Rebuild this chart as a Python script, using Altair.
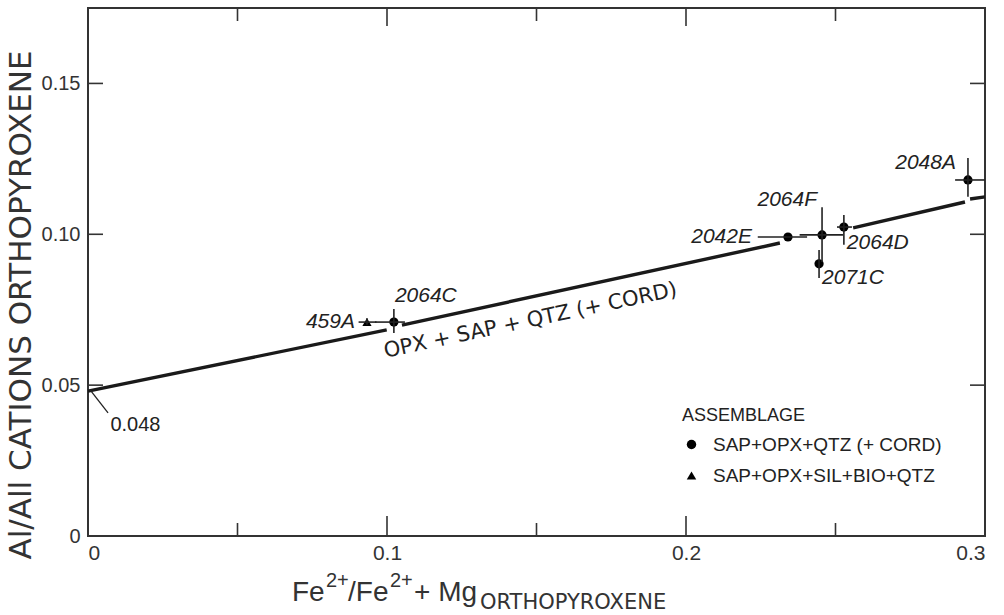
import altair as alt
import pandas as pd

# --- analysed orthopyroxenes -------------------------------------------------
samples = ["459A", "2064C", "2042E", "2064F", "2064D", "2071C", "2048A"]
fe_ratio = [0.0933, 0.1023, 0.2341, 0.2455, 0.2528, 0.2445, 0.2943]
al_cations = [0.0709, 0.0709, 0.0991, 0.0998, 0.1024, 0.0902, 0.1180]
ASSEMBLAGES = ["SAP+OPX+QTZ  (+ CORD)", "SAP+OPX+SIL+BIO+QTZ"]
assemblage = [ASSEMBLAGES[1]] + [ASSEMBLAGES[0]] * 6

# analytical ranges (error bars)
fe_lo = [0.0905, 0.0960, 0.2240, 0.2380, 0.2505, 0.2445, 0.2900]
fe_hi = [0.0965, 0.1060, 0.2405, 0.2525, 0.2555, 0.2445, 0.3000]
al_lo = [0.0700, 0.0673, 0.0991, 0.0908, 0.0965, 0.0855, 0.1124]
al_hi = [0.0722, 0.0752, 0.0991, 0.1090, 0.1064, 0.0948, 0.1253]

# OPX + SAP + QTZ (+ CORD) trend, interrupted around the data points
seg_fe_start = [0.0000, 0.1050, 0.2559, 0.2950]
seg_al_start = [0.0480, 0.0699, 0.1021, 0.1117]
seg_fe_end = [0.0999, 0.2314, 0.2933, 0.3000]
seg_al_end = [0.0683, 0.0971, 0.1107, 0.1124]

# frame ticks
x_major_ticks = [0.1, 0.2]
x_minor_ticks = [0.05, 0.15, 0.25]
y_ticks = [0.05, 0.10, 0.15]
x_tick_labels = [0, 0.1, 0.2, 0.3]
y_tick_labels = [0, 0.05, 0.10, 0.15]

W, H = 897, 528
SANS = "Liberation Sans, Arial, sans-serif"
WIDE = "DejaVu Sans, Verdana, sans-serif"

pts = pd.DataFrame({
    "sample": samples, "fe": fe_ratio, "al": al_cations, "assemblage": assemblage,
    "fe_lo": fe_lo, "fe_hi": fe_hi, "al_lo": al_lo, "al_hi": al_hi,
})
segs = pd.DataFrame({"x0": seg_fe_start, "y0": seg_al_start,
                     "x1": seg_fe_end, "y1": seg_al_end})

xs = alt.Scale(domain=[0, 0.3], nice=False, zero=False)
ys = alt.Scale(domain=[0, 0.175], nice=False, zero=False)
x_axis = alt.Axis(
    values=x_tick_labels, tickSize=0, domain=False, grid=False, title=None,
    labelExpr="datum.value == 0 ? '0' : format(datum.value, '.1f')",
    labelFont=SANS, labelFontSize=21, labelColor="#333", labelPadding=6)
y_axis = alt.Axis(
    values=y_tick_labels, tickSize=0, domain=False, grid=False, title=None,
    labelExpr="datum.value == 0 ? '0' : format(datum.value, '.2f')",
    labelFont=SANS, labelFontSize=20, labelColor="#333", labelPadding=8)


def X(field):
    return alt.X(field, scale=xs, axis=x_axis)


def Y(field):
    return alt.Y(field, scale=ys, axis=y_axis)


one = pd.DataFrame({"k": [0]})

points = alt.Chart(pts).mark_point(filled=True, color="black", opacity=1, size=85).encode(
    x=X("fe:Q"), y=Y("al:Q"),
    shape=alt.Shape("assemblage:N",
                    scale=alt.Scale(domain=ASSEMBLAGES, range=["circle", "triangle-up"]),
                    legend=alt.Legend(
                        title="ASSEMBLAGE", orient="none", legendX=590, legendY=395,
                        titleFont=SANS, titleFontSize=18, titleFontWeight="normal",
                        titleColor="#222", titlePadding=10,
                        labelFont=SANS, labelFontSize=19, labelColor="#222", labelLimit=0,
                        symbolFillColor="black", symbolStrokeColor="black",
                        symbolSize=90, rowPadding=11, labelOffset=12, padding=4)),
)

hbars = alt.Chart(pts).mark_rule(color="#222", strokeWidth=1.6).encode(
    x=X("fe_lo:Q"), x2="fe_hi:Q", y=Y("al:Q"))
vbars = alt.Chart(pts).mark_rule(color="#222", strokeWidth=1.6).encode(
    x=X("fe:Q"), y=Y("al_lo:Q"), y2="al_hi:Q")

trend = alt.Chart(segs).mark_rule(color="#1a1a1a", strokeWidth=3.4).encode(
    x=X("x0:Q"), x2="x1:Q", y=Y("y0:Q"), y2="y1:Q")

# sample labels: (align, dx, dy)
label_offsets = {
    "459A": ("right", -12, 0), "2064C": ("left", 1, -26), "2042E": ("right", -36, 0),
    "2064F": ("right", -5, -35), "2064D": ("left", 3, 16), "2071C": ("left", 3, 14),
    "2048A": ("right", -12, -17),
}
label_layers = []
for s in samples:
    al_, dx_, dy_ = label_offsets[s]
    label_layers.append(
        alt.Chart(pts).transform_filter(alt.datum.sample == s).mark_text(
            align=al_, baseline="middle", dx=dx_, dy=dy_, font=SANS, fontSize=21,
            fontStyle="italic", color="#222").encode(
            x=X("fe:Q"), y=Y("al:Q"), text="sample:N"))

trend_label = alt.Chart(pd.DataFrame({"x": [0.1480], "y": [0.0713],
                                      "t": ["OPX + SAP + QTZ (+ CORD)"]})).mark_text(
    angle=348, font=WIDE, fontSize=21, color="#222", align="center", baseline="middle").encode(
    x=X("x:Q"), y=Y("y:Q"), text="t:N")

intercept = pd.DataFrame({"x": [0.0075], "y": [0.0368], "t": ["0.048"],
                          "lx0": [0.0007], "ly0": [0.0484], "lx1": [0.0067], "ly1": [0.0408]})
intercept_text = alt.Chart(intercept).mark_text(
    align="left", baseline="middle", font=SANS, fontSize=20, color="#222").encode(
    x=X("x:Q"), y=Y("y:Q"), text="t:N")
intercept_leader = alt.Chart(intercept).mark_rule(color="#222", strokeWidth=1.3).encode(
    x=X("lx0:Q"), x2="lx1:Q", y=Y("ly0:Q"), y2="ly1:Q")

# inward frame ticks
tick_style = dict(color="#333", strokeWidth=1.6)
left_ticks = alt.Chart(pd.DataFrame({"v": y_ticks})).mark_rule(**tick_style).encode(
    y=Y("v:Q"), x=alt.value(0), x2=alt.value(15))
right_ticks = alt.Chart(pd.DataFrame({"v": y_ticks})).mark_rule(**tick_style).encode(
    y=Y("v:Q"), x=alt.value(W - 15), x2=alt.value(W))
bottom_major = alt.Chart(pd.DataFrame({"v": x_major_ticks})).mark_rule(**tick_style).encode(
    x=X("v:Q"), y=alt.value(H), y2=alt.value(H - 20))
bottom_minor = alt.Chart(pd.DataFrame({"v": x_minor_ticks})).mark_rule(**tick_style).encode(
    x=X("v:Q"), y=alt.value(H), y2=alt.value(H - 13))
top_major = alt.Chart(pd.DataFrame({"v": x_major_ticks})).mark_rule(**tick_style).encode(
    x=X("v:Q"), y=alt.value(0), y2=alt.value(18))
top_minor = alt.Chart(pd.DataFrame({"v": x_minor_ticks})).mark_rule(**tick_style).encode(
    x=X("v:Q"), y=alt.value(0), y2=alt.value(13))

# axis titles
y_title = alt.Chart(one).mark_text(
    angle=270, font=WIDE, fontSize=31, color="#333", align="center", baseline="middle").encode(
    x=alt.value(22 - 88), y=alt.value(305 - 8), text=alt.value("Al/All CATIONS ORTHOPYROXENE"))


def piece(txt, px, py, size, font=SANS):
    return alt.Chart(one).mark_text(
        font=font, fontSize=size, color="#333", align="left", baseline="alphabetic").encode(
        x=alt.value(px - 88), y=alt.value(py - 8), text=alt.value(txt))


x_title = [
    piece("Fe", 292, 601, 28),
    piece("2+", 326, 587, 20),
    piece("/Fe", 348, 601, 28),
    piece("2+", 390, 587, 20),
    piece("+ Mg", 414, 601, 28),
    piece("ORTHOPYROXENE", 480, 609, 21, WIDE),
]

chart = alt.layer(
    points, left_ticks, right_ticks, bottom_major, bottom_minor, top_major, top_minor,
    trend, hbars, vbars, *label_layers, trend_label, intercept_leader, intercept_text,
    y_title, *x_title,
).properties(
    width=W, height=H,
    padding={"left": 88, "top": 8, "right": 19, "bottom": 79},
    autosize=alt.AutoSizeParams(type="none"),
    background="white",
).configure_view(stroke="#333", strokeWidth=2)

chart.save("out.html", embed_options={"renderer": "svg", "actions": False})
